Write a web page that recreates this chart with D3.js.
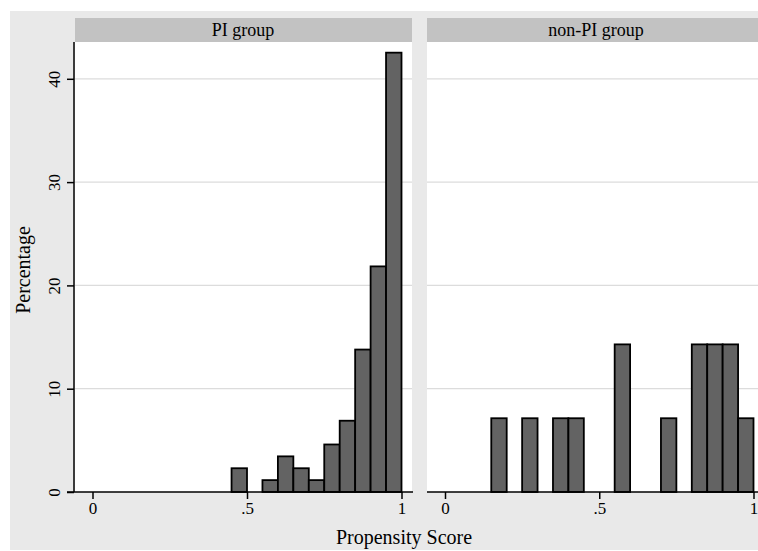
<!DOCTYPE html>
<html>
<head>
<meta charset="utf-8">
<script src="https://cdn.jsdelivr.net/npm/d3@7"></script>
<style>
  body { margin: 0; background: #fff; }
  svg { display: block; }
  text { font-family: "Liberation Serif", "DejaVu Serif", serif; fill: #000; }
</style>
</head>
<body>
<svg id="chart" width="758" height="551"></svg>
<script>
// ========== data
const groups = ['PI group', 'non-PI group'];
const binWidth = 0.05;
// left edge of each bin and percentage in it
const piBins = [0.45, 0.55, 0.60, 0.65, 0.70, 0.75, 0.80, 0.85, 0.90, 0.95];
const piPct  = [2.30, 1.15, 3.45, 2.30, 1.15, 4.60, 6.90, 13.79, 21.84, 42.53];
const nonPiBins = [0.15, 0.25, 0.35, 0.40, 0.55, 0.70, 0.80, 0.85, 0.90, 0.95];
const nonPiPct  = [7.14, 7.14, 7.14, 7.14, 14.29, 7.14, 14.29, 14.29, 14.29, 7.14];
const yTicks = [0, 10, 20, 30, 40];
const xTicks = [0, 0.5, 1];
const xTickLabels = ['0', '.5', '1'];

// ========== layout
const svg = d3.select('#chart');
const plotTop = 42, plotBottom = 492;
const panels = [
  { left: 75, right: 412, x0: 92.5, x1: 401.5, title: 243, bins: piBins, pct: piPct },
  { left: 427, right: 764, x0: 445, x1: 753.5, title: 596, bins: nonPiBins, pct: nonPiPct }
];

// outer background
svg.append('rect')
  .attr('x', 10).attr('y', 11).attr('width', 748).attr('height', 539)
  .attr('fill', '#e9e9e9');

const y = d3.scaleLinear().domain([0, 10]).range([plotBottom, plotBottom - 103.3]);

panels.forEach((p, i) => {
  const x = d3.scaleLinear().domain([0, 1]).range([p.x0, p.x1]);
  const g = svg.append('g');

  // strip header
  g.append('rect')
    .attr('x', p.left).attr('y', 18)
    .attr('width', p.right - p.left).attr('height', 24)
    .attr('fill', '#c2c2c2');
  g.append('text')
    .attr('x', p.title)
    .attr('y', 36)
    .attr('text-anchor', 'middle')
    .attr('font-size', 18)
    .text(groups[i]);

  // plot area
  g.append('rect')
    .attr('x', p.left).attr('y', plotTop)
    .attr('width', p.right - p.left).attr('height', plotBottom - plotTop)
    .attr('fill', '#fff');

  // grid lines
  g.selectAll('line.grid')
    .data(yTicks.filter(d => d > 0))
    .enter().append('line')
    .attr('class', 'grid')
    .attr('x1', p.left).attr('x2', p.right)
    .attr('y1', d => y(d)).attr('y2', d => y(d))
    .attr('stroke', '#dcdcdc').attr('stroke-width', 1.2);

  // bars
  g.selectAll('rect.bar')
    .data(p.bins.map((b, k) => ({ b: b, v: p.pct[k] })))
    .enter().append('rect')
    .attr('class', 'bar')
    .attr('x', d => x(d.b))
    .attr('y', d => y(d.v))
    .attr('width', d => x(d.b + binWidth) - x(d.b))
    .attr('height', d => y(0) - y(d.v))
    .attr('fill', '#636363')
    .attr('stroke', '#000')
    .attr('stroke-width', 1.8);

  // x axis
  const xAxis = d3.axisBottom(x)
    .tickValues(xTicks)
    .tickFormat((d, k) => xTickLabels[k])
    .tickSize(7)
    .tickPadding(3);
  const ax = g.append('g')
    .attr('transform', `translate(0,${plotBottom})`)
    .call(xAxis);
  ax.select('.domain').remove();
  ax.selectAll('.tick line').attr('stroke', '#000').attr('stroke-width', 1.5);
  ax.selectAll('.tick text')
    .attr('font-size', 17);
  g.append('line')
    .attr('x1', i === 0 ? 67 : p.left).attr('x2', p.right + (i === 0 ? 1 : 0))
    .attr('y1', plotBottom).attr('y2', plotBottom)
    .attr('stroke', '#000').attr('stroke-width', 1.5);

  // y axis on the first panel only
  if (i === 0) {
    const yAxis = d3.axisLeft(y).tickValues(yTicks).tickSize(7).tickPadding(3);
    const ay = g.append('g')
      .attr('transform', `translate(${p.left - 1},0)`)
      .call(yAxis);
    ay.select('.domain').remove();
    ay.selectAll('.tick line').attr('stroke', '#000').attr('stroke-width', 1.5);
    ay.selectAll('.tick text')
      .attr('font-size', 17)
      .attr('text-anchor', 'middle')
      .attr('x', null).attr('dy', null)
      .attr('transform', 'translate(-20,0) rotate(-90)')
      .attr('dominant-baseline', 'central');
    g.append('line')
      .attr('x1', p.left - 1).attr('x2', p.left - 1)
      .attr('y1', plotTop).attr('y2', plotBottom)
      .attr('stroke', '#000').attr('stroke-width', 1.5);
  }
});

// axis titles
svg.append('text')
  .attr('x', 404).attr('y', 544)
  .attr('text-anchor', 'middle')
  .attr('font-size', 20)
  .text('Propensity Score');
svg.append('text')
  .attr('transform', 'translate(30,270) rotate(-90)')
  .attr('text-anchor', 'middle')
  .attr('font-size', 20)
  .text('Percentage');
</script>
</body>
</html>
